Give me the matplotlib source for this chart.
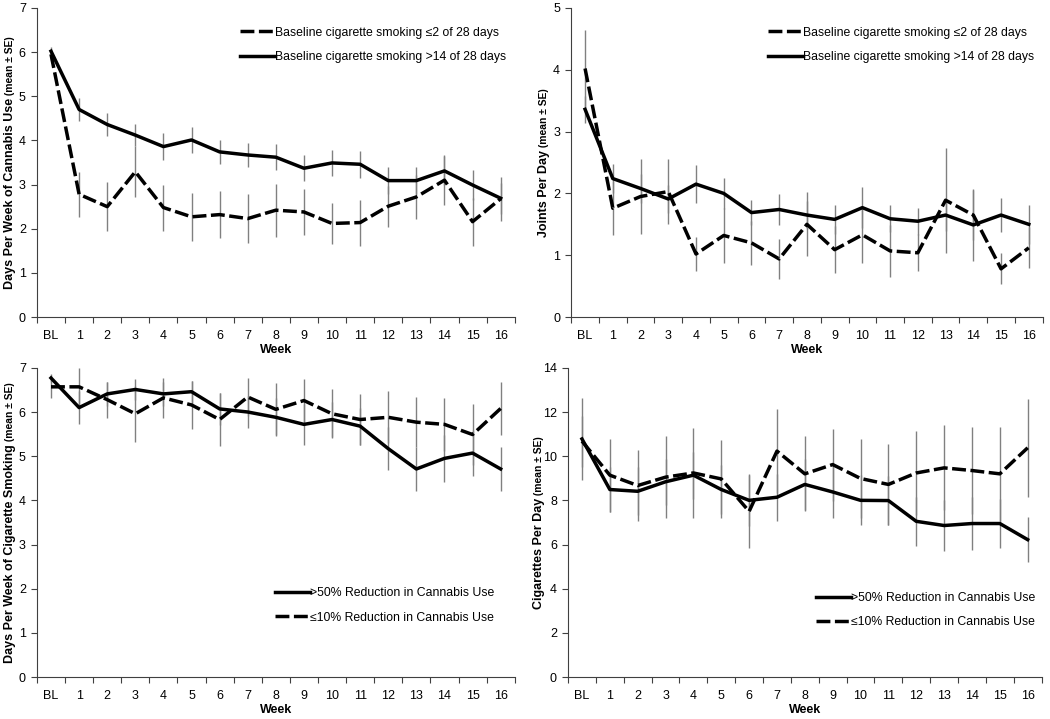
import matplotlib.pyplot as plt
import numpy as np
from matplotlib.transforms import IdentityTransform

plt.rcParams['font.family'] = ['Liberation Sans', 'DejaVu Sans']

# Categorías del eje x
semanas = ['BL'] + [str(i) for i in range(1, 17)]

# Panel A: días por semana de uso de cannabis
canna_bajo = [5.95, 2.78, 2.50, 3.29, 2.48, 2.27, 2.32, 2.23, 2.42, 2.38, 2.12, 2.14, 2.51, 2.72, 3.10, 2.16, 2.68]
canna_bajo_se = [0.12, 0.51, 0.55, 0.58, 0.52, 0.55, 0.54, 0.56, 0.60, 0.52, 0.47, 0.52, 0.46, 0.50, 0.56, 0.54, 0.50]
canna_alto = [6.02, 4.70, 4.36, 4.12, 3.86, 4.01, 3.74, 3.67, 3.62, 3.37, 3.49, 3.46, 3.09, 3.09, 3.31, 2.99, 2.69]
canna_alto_se = [0.10, 0.25, 0.27, 0.25, 0.30, 0.30, 0.28, 0.27, 0.29, 0.30, 0.30, 0.30, 0.30, 0.30, 0.33, 0.33, 0.35]

# Panel B: porros por día
porros_bajo = [4.02, 1.76, 1.95, 2.03, 1.02, 1.32, 1.20, 0.94, 1.50, 1.09, 1.33, 1.07, 1.04, 1.89, 1.65, 0.78, 1.12]
porros_bajo_se = [0.63, 0.44, 0.60, 0.52, 0.28, 0.44, 0.36, 0.32, 0.52, 0.38, 0.45, 0.42, 0.30, 0.85, 0.41, 0.25, 0.33]
porros_alto = [3.36, 2.24, 2.08, 1.91, 2.15, 2.00, 1.69, 1.74, 1.65, 1.58, 1.77, 1.59, 1.55, 1.65, 1.49, 1.65, 1.50]
porros_alto_se = [0.22, 0.24, 0.23, 0.22, 0.31, 0.25, 0.20, 0.25, 0.22, 0.23, 0.33, 0.22, 0.22, 0.25, 0.58, 0.28, 0.32]

# Panel C: días por semana fumando cigarrillos
dias_red50 = [6.77, 6.10, 6.41, 6.51, 6.41, 6.46, 6.07, 6.00, 5.88, 5.72, 5.83, 5.68, 5.17, 4.71, 4.95, 5.07, 4.71]
dias_red50_se = [0.10, 0.37, 0.28, 0.23, 0.28, 0.25, 0.37, 0.37, 0.43, 0.46, 0.40, 0.42, 0.49, 0.50, 0.54, 0.52, 0.50]
dias_red10 = [6.57, 6.57, 6.28, 5.96, 6.32, 6.16, 5.83, 6.34, 6.06, 6.26, 5.96, 5.83, 5.88, 5.77, 5.72, 5.49, 6.08]
dias_red10_se = [0.25, 0.43, 0.41, 0.64, 0.45, 0.55, 0.60, 0.43, 0.59, 0.48, 0.55, 0.58, 0.59, 0.57, 0.60, 0.70, 0.59]

# Panel D: cigarrillos por día
cig_red50 = [10.78, 8.49, 8.41, 8.84, 9.14, 8.49, 8.00, 8.14, 8.72, 8.38, 8.00, 7.99, 7.05, 6.86, 6.95, 6.95, 6.22]
cig_red50_se = [1.87, 1.00, 1.08, 1.03, 1.07, 1.09, 1.14, 1.06, 1.14, 1.18, 1.13, 1.09, 1.10, 1.16, 1.18, 1.10, 1.01]
cig_red10 = [10.68, 9.14, 8.67, 9.05, 9.24, 8.97, 7.50, 10.23, 9.20, 9.62, 8.99, 8.72, 9.24, 9.47, 9.35, 9.20, 10.38]
cig_red10_se = [1.16, 1.66, 1.59, 1.85, 2.04, 1.76, 1.68, 1.92, 1.70, 1.63, 1.81, 1.84, 1.89, 1.92, 1.96, 2.13, 2.22]

etiq_a = ['Baseline cigarette smoking \u22642 of 28 days', 'Baseline cigarette smoking >14 of 28 days']
etiq_b = ['>50% Reduction in Cannabis Use', '\u226410% Reduction in Cannabis Use']

fig = plt.figure(figsize=(10.5, 7.19), dpi=100)

posiciones = [
    [0.0352, 0.559, 0.455, 0.430],
    [0.544, 0.559, 0.449, 0.430],
    [0.0352, 0.0584, 0.455, 0.430],
    [0.541, 0.0584, 0.451, 0.430],
]

x = np.arange(len(semanas))
gris = '#808080'
rayas = (4, 1.3)
letra_ley = 8.8


def dibujar(ax, serie, se, estilo, etiqueta):
    ax.errorbar(x, serie, yerr=se, fmt='none', ecolor=gris, elinewidth=1.0, capsize=0, zorder=1)
    if estilo == 'dash':
        ax.plot(x, serie, color='black', lw=2.5, dashes=rayas, label=etiqueta, zorder=3)
    else:
        ax.plot(x, serie, color='black', lw=2.5, label=etiqueta, zorder=3)


def formato(ax, ymax, paso):
    ax.set_xlim(-0.5, 16.5)
    ax.set_ylim(0, ymax)
    ax.set_yticks(np.arange(0, ymax + 0.1, paso))
    ax.set_xticks(x)
    ax.set_xticklabels(semanas)
    ax.set_xticks(np.arange(-0.5, 17, 1), minor=True)
    ax.tick_params(axis='x', which='major', length=0, labelsize=9, pad=9)
    ax.tick_params(axis='x', which='minor', length=4, width=0.8, color='#404040')
    ax.tick_params(axis='y', length=4, width=0.8, color='#404040', labelsize=9, pad=4)
    for s in ['top', 'right']:
        ax.spines[s].set_visible(False)
    for s in ['left', 'bottom']:
        ax.spines[s].set_color('#404040')
        ax.spines[s].set_linewidth(0.8)
    ax.set_xlabel('Week', fontsize=9, fontweight='bold', labelpad=2)


def leyenda(ax, loc, ancla):
    ax.legend(loc=loc, bbox_to_anchor=ancla, frameon=False, fontsize=letra_ley,
              handlelength=2.9, handletextpad=0.0, labelspacing=1.0, borderaxespad=0.3)


ejes = [fig.add_axes(p) for p in posiciones]

ax = ejes[0]
dibujar(ax, canna_bajo, canna_bajo_se, 'dash', etiq_a[0])
dibujar(ax, canna_alto, canna_alto_se, 'solid', etiq_a[1])
formato(ax, 7, 1)
leyenda(ax, 'upper right', (1.0, 0.967))

ax = ejes[1]
dibujar(ax, porros_bajo, porros_bajo_se, 'dash', etiq_a[0])
dibujar(ax, porros_alto, porros_alto_se, 'solid', etiq_a[1])
formato(ax, 5, 1)
leyenda(ax, 'upper right', (1.0, 0.967))

ax = ejes[2]
dibujar(ax, dias_red50, dias_red50_se, 'solid', etiq_b[0])
dibujar(ax, dias_red10, dias_red10_se, 'dash', etiq_b[1])
formato(ax, 7, 1)
leyenda(ax, 'lower right', (0.975, 0.145))

ax = ejes[3]
dibujar(ax, cig_red50, cig_red50_se, 'solid', etiq_b[0])
dibujar(ax, cig_red10, cig_red10_se, 'dash', etiq_b[1])
formato(ax, 14, 2)
leyenda(ax, 'lower right', (1.005, 0.13))

# Etiquetas del eje y con dos tamaños de letra
fig.canvas.draw()
renderer = fig.canvas.get_renderer()
alto_px = fig.get_figheight() * fig.dpi


def etiqueta_y(ax, principal, secundario, x_px):
    t1 = fig.text(0, 0, principal, rotation=90, rotation_mode='anchor', ha='left', va='baseline',
                  fontsize=9, fontweight='bold', transform=IdentityTransform())
    t2 = fig.text(0, 0, secundario, rotation=90, rotation_mode='anchor', ha='left', va='baseline',
                  fontsize=7.4, fontweight='bold', transform=IdentityTransform())
    h1 = t1.get_window_extent(renderer).height
    h2 = t2.get_window_extent(renderer).height
    p = ax.get_position()
    centro = (p.y0 + p.y1) / 2 * alto_px
    y0 = centro - (h1 + h2) / 2
    t1.set_position((x_px, y0))
    t2.set_position((x_px, y0 + h1))


etiqueta_y(ejes[0], 'Days Per Week of Cannabis Use', ' (mean \u00b1 SE)', 13)
etiqueta_y(ejes[1], 'Joints Per Day', ' (mean \u00b1 SE)', 525 + 22)
etiqueta_y(ejes[2], 'Days Per Week of Cigarette Smoking', ' (mean \u00b1 SE)', 13)
etiqueta_y(ejes[3], 'Cigarettes Per Day', ' (mean \u00b1 SE)', 525 + 17)

fig.savefig('out.png', dpi=100)
